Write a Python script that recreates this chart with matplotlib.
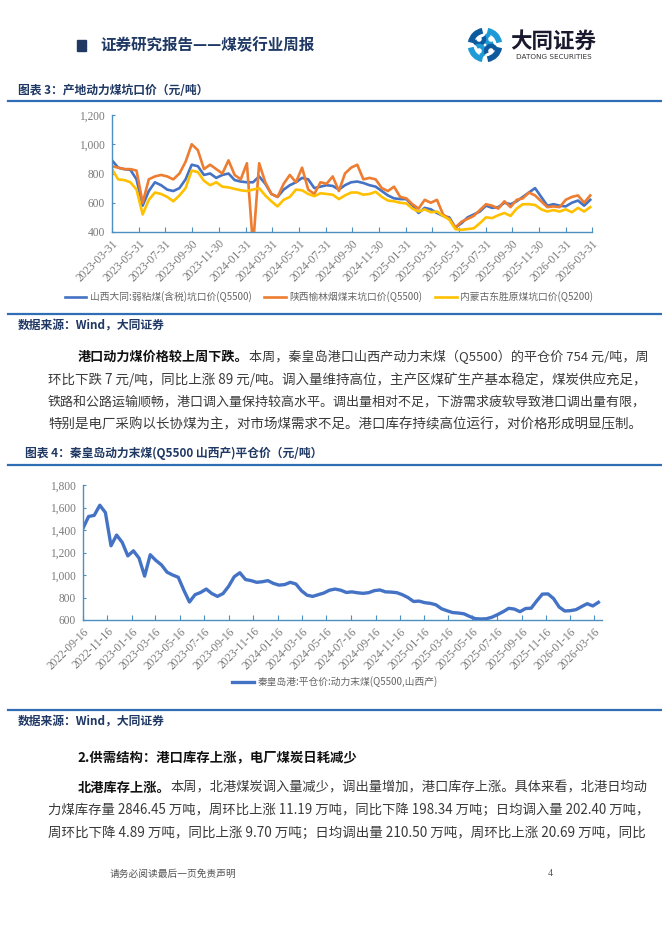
import matplotlib
matplotlib.use("Agg")
import matplotlib.pyplot as plt
import matplotlib.patches as mpatches
from matplotlib.ticker import FuncFormatter
import pandas as pd

plt.rcParams['font.family'] = ['Noto Sans CJK SC', 'DejaVu Sans']

# ---- chart 1 data: pithead prices, every two weeks from 2023-03-31 ----
blue1 = [890, 840, 830, 825, 760, 580, 680, 740, 720, 690,
         680, 700, 760, 860, 850, 790, 800, 770, 790, 800,
         755, 745, 740, 740, 780, 730, 660, 640, 690, 720,
         740, 770, 760, 700, 710, 720, 715, 690, 720, 740,
         745, 735, 720, 710, 680, 650, 630, 625, 625, 580,
         530, 565, 555, 530, 510, 500, 430, 460, 500, 520,
         540, 580, 565, 570, 600, 590, 610, 640, 670, 700,
         640, 580, 590, 580, 575, 600, 615, 580, 620]
orange1 = [850, 840, 830, 830, 820, 600, 760, 780, 790, 780,
           760, 800, 880, 1000, 960, 830, 860, 830, 800, 890,
           790, 760, 870, 300, 870, 740, 660, 640, 730, 790,
           740, 840, 690, 660, 740, 730, 780, 680, 800, 840,
           860, 760, 770, 760, 700, 680, 710, 640, 630, 590,
           560, 620, 600, 620, 520, 490, 430, 470, 490, 510,
           550, 590, 580, 560, 610, 570, 620, 630, 670, 650,
           610, 570, 575, 570, 620, 640, 650, 600, 650]
yellow1 = [830, 760, 755, 740, 690, 520, 620, 670, 660, 640,
           610, 650, 700, 820, 810, 750, 720, 740, 710, 705,
           695, 685, 680, 690, 700, 650, 610, 575, 620, 640,
           690, 685, 660, 645, 665, 660, 655, 625, 650, 670,
           670, 655, 660, 675, 640, 615, 610, 600, 595, 560,
           540, 555, 535, 540, 510, 485, 420, 415, 420, 425,
           460, 500, 495, 515, 530, 510, 560, 590, 590, 585,
           555, 540, 550, 540, 555, 535, 565, 540, 570]
names1 = ["山西大同:弱粘煤(含税)坑口价(Q5500)",
          "陕西榆林烟煤末坑口价(Q5500)",
          "内蒙古东胜原煤坑口价(Q5200)"]
ticks1 = ["2023-03-31", "2023-05-31", "2023-07-31", "2023-09-30", "2023-11-30",
          "2024-01-31", "2024-03-31", "2024-05-31", "2024-07-31", "2024-09-30",
          "2024-11-30", "2025-01-31", "2025-03-31", "2025-05-31", "2025-07-31",
          "2025-09-30", "2025-11-30", "2026-01-31", "2026-03-31"]

# ---- chart 2 data: Qinhuangdao FOB price, every two weeks from 2022-09-16 ----
qhd = [1415, 1520, 1530, 1620, 1555, 1260, 1355, 1290, 1170, 1215,
       1150, 990, 1180, 1130, 1090, 1025, 1000, 980, 865, 760,
       825, 845, 875, 835, 810, 835, 900, 985, 1020, 960,
       950, 935, 940, 950, 925, 910, 915, 935, 920, 860,
       820, 810, 825, 840, 865, 875, 865, 845, 850, 842,
       837, 843, 861, 867, 850, 848, 843, 825, 800, 765,
       768, 754, 748, 735, 700, 682, 666, 662, 655, 632,
       612, 609, 611, 625, 648, 674, 704, 697, 674, 702,
       705, 770, 830, 832, 790, 715, 680, 683, 692, 719,
       745, 725, 757]
name2 = "秦皇岛港:平仓价:动力末煤(Q5500,山西产)"
ticks2 = ["2022-09-16", "2022-11-16", "2023-01-16", "2023-03-16", "2023-05-16",
          "2023-07-16", "2023-09-16", "2023-11-16", "2024-01-16", "2024-03-16",
          "2024-05-16", "2024-07-16", "2024-09-16", "2024-11-16", "2025-01-16",
          "2025-03-16", "2025-05-16", "2025-07-16", "2025-09-16", "2025-11-16",
          "2026-01-16", "2026-03-16"]

# (bold lead, plain text, justified?)
para1 = [("港口动力煤价格较上周下跌。", "本周，秦皇岛港口山西产动力末煤（Q5500）的平仓价 754 元/吨，周", True),
         ("", "环比下跌 7 元/吨，同比上涨 89 元/吨。调入量维持高位，主产区煤矿生产基本稳定，煤炭供应充足，", True),
         ("", "铁路和公路运输顺畅，港口调入量保持较高水平。调出量相对不足，下游需求疲软导致港口调出量有限，", True),
         ("", "特别是电厂采购以长协煤为主，对市场煤需求不足。港口库存持续高位运行，对价格形成明显压制。", False)]
para2 = [("北港库存上涨。", "本周，北港煤炭调入量减少，调出量增加，港口库存上涨。具体来看，北港日均动", True),
         ("", "力煤库存量 2846.45 万吨，周环比上涨 11.19 万吨，同比下降 198.34 万吨；日均调入量 202.40 万吨，", True),
         ("", "周环比下降 4.89 万吨，同比上涨 9.70 万吨；日均调出量 210.50 万吨，周环比上涨 20.69 万吨，同比", True)]

W, H = 662, 936
NAVY = "#1f3864"
RULE = "#2f6db5"
AXC = "#4d8fbf"
GREY = "#7a7a7a"

fig = plt.figure(figsize=(W / 100, H / 100), dpi=100)
fig.patch.set_facecolor("white")


def fx(x):
    return x / W


def fy(y):
    return 1 - y / H


def put(x, y, s, **kw):
    return fig.text(fx(x), fy(y), s, va="center", **kw)


def rule(y):
    fig.add_artist(plt.Line2D([fx(8), fx(662)], [fy(y), fy(y)], color=RULE, lw=1.6))


# header
fig.add_artist(mpatches.Rectangle((fx(77), fy(51)), 9 / W, 11 / H, color=NAVY))
put(100, 45, "证券研究报告——煤炭行业周报", fontsize=11.2, fontweight="bold", color=NAVY)
put(510, 41, "大同证券", fontsize=15.5, fontweight="bold", color="#1a1a2e")
put(516, 57, "DATONG SECURITIES", fontsize=5.2, color="#333333", family=["DejaVu Sans"])

# logo (rough swirl)
lax = fig.add_axes([fx(467), fy(63), 36 / W, 36 / H])
lax.set_xlim(-1, 1)
lax.set_ylim(-1, 1)
lax.set_aspect("equal")
lax.axis("off")
for k, c in enumerate(["#1e9bd7", "#0d5a9e", "#1e9bd7", "#0d5a9e"]):
    lax.add_patch(mpatches.Arc((0, 0), 1.6, 1.6, theta1=90 * k + 10, theta2=90 * k + 80,
                               color=c, lw=4.2))
    cx = [0.33, -0.33, -0.33, 0.33][k]
    cy = [0.33, 0.33, -0.33, -0.33][k]
    lax.add_patch(mpatches.Arc((cx, cy), 0.55, 0.55, theta1=90 * k + 100, theta2=90 * k + 300,
                               color=c, lw=3.2))

# chart 1
put(18, 91, "图表 3：产地动力煤坑口价（元/吨）", fontsize=8.5, fontweight="bold", color=NAVY)
rule(101)


def style_axes(ax):
    for side in ["top", "right"]:
        ax.spines[side].set_visible(False)
    for side in ["left", "bottom"]:
        ax.spines[side].set_color(AXC)
        ax.spines[side].set_linewidth(1.0)
    ax.tick_params(axis="both", direction="in", color=AXC, labelcolor=GREY, labelsize=8.3,
                   labelfontfamily="Liberation Serif")
    ax.tick_params(axis="y", length=2.5, pad=5)
    ax.tick_params(axis="x", length=3.5, pad=4)
    ax.yaxis.set_major_formatter(FuncFormatter(lambda v, p: f"{v:,.0f}"))


dates1 = pd.date_range("2023-03-31", periods=len(blue1), freq="14D")
ax1 = fig.add_axes([fx(112), fy(232), 480 / W, 117 / H])
ax1.plot(dates1, blue1, color="#4472c4", lw=1.9, label=names1[0])
ax1.plot(dates1, orange1, color="#ed7d31", lw=1.9, label=names1[1])
ax1.plot(dates1, yellow1, color="#ffc000", lw=1.9, label=names1[2])
ax1.set_ylim(400, 1200)
ax1.set_yticks(range(400, 1201, 200))
ax1.set_xlim(pd.Timestamp("2023-03-31"), pd.Timestamp("2026-03-31"))
ax1.set_xticks(pd.to_datetime(ticks1))
ax1.set_xticklabels(ticks1, rotation=45, ha="right", rotation_mode="anchor")
style_axes(ax1)
ax1.legend(loc="center", bbox_to_anchor=(fx(329), fy(297)), bbox_transform=fig.transFigure,
           ncol=3, frameon=False, fontsize=7.0, labelcolor="#666666",
           handlelength=2.2, columnspacing=1.3, handletextpad=0.4)
rule(314)
put(18, 326, "数据来源：Wind，大同证券", fontsize=8.5, fontweight="bold", color=NAVY)

renderer = fig.canvas.get_renderer()
RIGHT = 648


def paragraph(lines, y0, step, size=9.7):
    for n, (lead, rest, justify) in enumerate(lines):
        y = y0 + n * step
        x0 = 78 if lead else 48
        parts = []
        x = x0
        if lead:
            parts.append(put(x, y, lead, fontsize=size, fontweight="bold", color="#111111"))
            x = parts[-1].get_window_extent(renderer).x1
        parts.append(put(x, y, rest, fontsize=size, color="#3a3a3a"))
        if justify:
            width = parts[-1].get_window_extent(renderer).x1 - x0
            scale = (RIGHT - x0) / width
            for p in parts:
                p.set_fontsize(size * scale)
            if lead:
                parts[1].set_x(fx(parts[0].get_window_extent(renderer).x1))


paragraph(para1, 357, 22.5)

# chart 2
put(25, 453, "图表 4：秦皇岛动力末煤(Q5500 山西产)平仓价（元/吨）", fontsize=8.5,
    fontweight="bold", color=NAVY)
rule(465)

dates2 = pd.date_range("2022-09-16", periods=len(qhd), freq="14D")
ax2 = fig.add_axes([fx(83), fy(620), 519 / W, 135 / H])
ax2.plot(dates2, qhd, color="#4472c4", lw=2.4, label=name2)
ax2.set_ylim(600, 1800)
ax2.set_yticks(range(600, 1801, 200))
ax2.set_xlim(pd.Timestamp("2022-09-16"), pd.Timestamp("2026-04-05"))
ax2.set_xticks(pd.to_datetime(ticks2))
ax2.set_xticklabels(ticks2, rotation=45, ha="right", rotation_mode="anchor")
style_axes(ax2)
ax2.legend(loc="center", bbox_to_anchor=(fx(335), fy(682)), bbox_transform=fig.transFigure,
           frameon=False, fontsize=7.0, labelcolor="#666666", handlelength=2.2,
           handletextpad=0.4)
rule(710)
put(18, 722, "数据来源：Wind，大同证券", fontsize=8.5, fontweight="bold", color=NAVY)

put(77, 758, "2.供需结构：港口库存上涨，电厂煤炭日耗减少", fontsize=9.6,
    fontweight="bold", color="#111111")
paragraph(para2, 788, 22.5)

# footer
put(110, 874, "请务必阅读最后一页免责声明", fontsize=7, color="#555555")
put(548, 874, "4", fontsize=7, color="#555555", family=["Liberation Serif"])

fig.savefig("out.png", dpi=100)
